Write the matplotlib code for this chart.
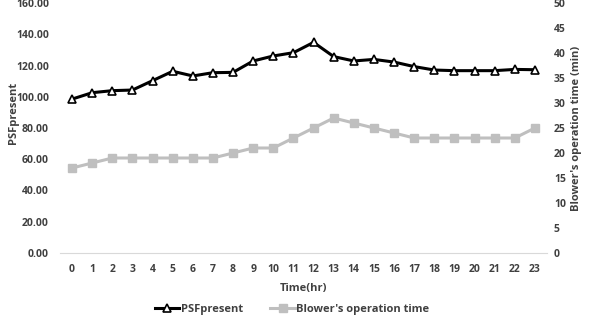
import matplotlib.pyplot as plt
from matplotlib.ticker import FormatStrFormatter

hours = list(range(24))
psf_present = [98.5, 102.6, 103.9, 104.3, 110.3, 116.3, 113.3, 115.4, 115.6, 122.9, 126.1, 128.2,
               134.8, 125.7, 122.9, 123.9, 122.2, 119.3, 117.1, 116.7, 116.7, 116.7, 117.5, 117.3]
blower_time = [17, 18, 19, 19, 19, 19, 19, 19, 20, 21, 21, 23,
               25, 27, 26, 25, 24, 23, 23, 23, 23, 23, 23, 25]

plt.rcParams['font.family'] = ['Open Sans', 'DejaVu Sans']
text_color = '#404040'

fig = plt.figure(figsize=(5.9, 3.17), dpi=100)
ax = fig.add_axes([60 / 590, 1 - 253 / 317, 487 / 590, 250 / 317])
ax2 = ax.twinx()

l1, = ax.plot(hours, psf_present, color='black', linewidth=2.2, marker='^', markersize=6,
              markerfacecolor='white', markeredgecolor='black', markeredgewidth=1.2,
              label='PSFpresent', zorder=3)
l2, = ax2.plot(hours, blower_time, color='#bfbfbf', linewidth=2.2, marker='s', markersize=6,
               markerfacecolor='#bfbfbf', markeredgecolor='#bfbfbf',
               label="Blower's operation time", zorder=2)
ax.set_zorder(ax2.get_zorder() + 1)
ax.patch.set_visible(False)

ax.set_xlim(-0.6, 23.6)
ax.set_ylim(0, 160)
ax2.set_ylim(0, 50)
ax.set_yticks(range(0, 161, 20))
ax2.set_yticks(range(0, 51, 5))
ax.set_xticks(hours)
ax.yaxis.set_major_formatter(FormatStrFormatter('%.2f'))

for a in (ax, ax2):
    for s in a.spines.values():
        s.set_visible(False)
    a.tick_params(length=0, labelsize=7.5, labelcolor=text_color)
    for lab in a.get_xticklabels() + a.get_yticklabels():
        lab.set_fontweight('bold')
ax.spines['bottom'].set_visible(True)
ax.spines['bottom'].set_color('#d9d9d9')
ax.tick_params(axis='x', pad=8)
ax.tick_params(axis='y', pad=8)
ax2.tick_params(axis='y', pad=5)

ax.set_xlabel('Time(hr)', fontsize=8, fontweight='bold', color=text_color, labelpad=6)
ax.set_ylabel('PSFpresent', fontsize=8, fontweight='bold', color=text_color)
ax.yaxis.set_label_coords(-0.085, 0.56)
ax2.set_ylabel("Blower's operation time (min)", fontsize=8, fontweight='bold', color=text_color,
               labelpad=4)

# legend sits at the very bottom edge, like the source figure
fig.legend(handles=[l1, l2], loc='center', bbox_to_anchor=(0.495, 0.025), ncol=2, frameon=False,
           labelcolor=text_color, handlelength=2.2, columnspacing=2.5,
           handletextpad=0.1, prop={'weight': 'bold', 'size': 8})

fig.savefig('out.png', dpi=100)
